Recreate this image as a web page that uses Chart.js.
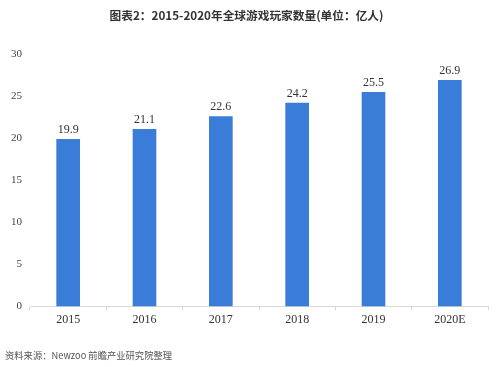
<!DOCTYPE html>
<html>
<head>
<meta charset="utf-8">
<script src="https://cdn.jsdelivr.net/npm/chart.js@4/dist/chart.umd.min.js"></script>
<style>
  html, body { margin: 0; padding: 0; background: #fff; }
  #wrap { width: 499px; height: 367px; }
</style>
</head>
<body>
<div id="wrap"><canvas id="chart"></canvas></div>
<script>
const years = ["2015", "2016", "2017", "2018", "2019", "2020E"]
const players = [19.9, 21.1, 22.6, 24.2, 25.5, 26.9]
const yTicks = [0, 5, 10, 15, 20, 25, 30]

const serif = "'Liberation Serif', 'Times New Roman', serif"
const cjk = "'Noto Sans CJK SC', 'Noto Sans', sans-serif"

// value labels above each bar
const valueLabels = {
  id: 'valueLabels',
  afterDatasetsDraw(chart) {
    const ctx = chart.ctx
    const meta = chart.getDatasetMeta(0)
    ctx.save()
    ctx.font = "12px " + serif
    ctx.fillStyle = '#333'
    ctx.textAlign = 'center'
    ctx.textBaseline = 'bottom'
    meta.data.forEach((bar, i) => {
      ctx.fillText(players[i].toFixed(1), bar.x, bar.y - 3)
    })
    ctx.restore()
  }
}

new Chart(document.getElementById('chart'), {
  type: 'bar',
  data: {
    labels: years,
    datasets: [{
      data: players,
      backgroundColor: '#3a7dd8',
      barPercentage: 0.31,
      categoryPercentage: 1.0
    }]
  },
  plugins: [valueLabels],
  options: {
    responsive: true,
    maintainAspectRatio: false,
    animation: false,
    layout: { padding: { left: 5, right: 11, top: 0, bottom: 4 } },
    plugins: {
      legend: { display: false },
      tooltip: { enabled: false },
      title: {
        display: true,
        text: '图表2：2015-2020年全球游戏玩家数量(单位：亿人)',
        color: '#333',
        font: { family: cjk, size: 11.7, weight: 'bold' },
        padding: { top: 9, bottom: 31 }
      },
      subtitle: {
        display: true,
        position: 'bottom',
        align: 'start',
        text: '资料来源：Newzoo 前瞻产业研究院整理',
        color: '#555',
        font: { family: cjk, size: 9.3 },
        padding: { top: 21, bottom: 2 }
      }
    },
    scales: {
      y: {
        min: 0,
        max: 30,
        afterBuildTicks: axis => { axis.ticks = yTicks.map(v => ({ value: v })) },
        afterFit: axis => { axis.width = 25 },
        grid: { display: false },
        border: { display: false },
        ticks: { color: '#444', font: { family: serif, size: 11 }, padding: 0 }
      },
      x: {
        grid: { display: true, drawOnChartArea: false, offset: true, tickLength: 4, color: '#d9d9d9' },
        border: { display: true, color: '#d9d9d9' },
        ticks: { color: '#333', font: { family: serif, size: 12 }, padding: 2 }
      }
    }
  }
})
</script>
</body>
</html>
